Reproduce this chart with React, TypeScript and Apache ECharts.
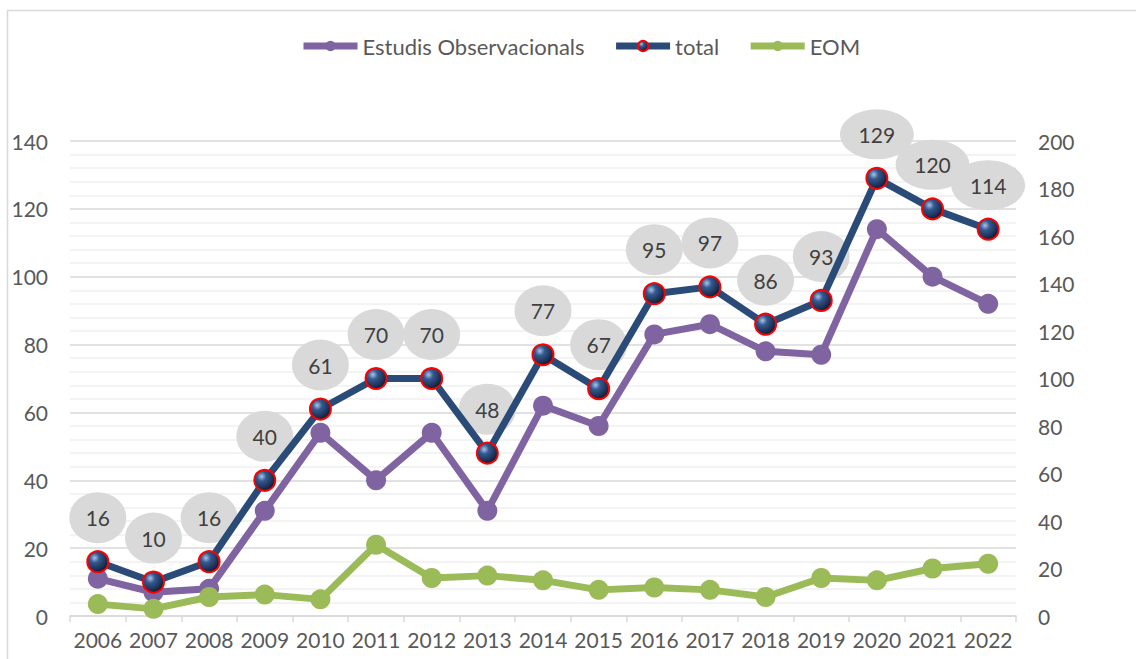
import React, { useEffect, useRef } from "react";
import * as echarts from "echarts";

const years = ["2006","2007","2008","2009","2010","2011","2012","2013","2014","2015","2016","2017","2018","2019","2020","2021","2022"];
const totalValues = [16, 10, 16, 40, 61, 70, 70, 48, 77, 67, 95, 97, 86, 93, 129, 120, 114];
const eoValues = [11, 7, 8, 31, 54, 40, 54, 31, 62, 56, 83, 86, 78, 77, 114, 100, 92];
const eomValues = [5, 3, 8, 9, 7, 30, 16, 17, 15, 11, 12, 11, 8, 16, 15, 20, 22];
const leftTicks = { min: 0, max: 140, interval: 20 };
const rightTicks = { min: 0, max: 200, interval: 20 };

const FONT = "Lato, 'Open Sans', sans-serif";
const TEXT = "#595959";
const ELLIPSE = "path://M0,50 A50,50 0 1,1 100,50 A50,50 0 1,1 0,50 Z";

export default function App() {
  const ref = useRef<HTMLDivElement>(null);
  useEffect(() => {
    if (!ref.current) return;
    const chart = echarts.init(ref.current, null, { renderer: "svg" });
    const sphere = {
      type: "radial",
      x: 0.35,
      y: 0.32,
      r: 0.75,
      colorStops: [
        { offset: 0, color: "#a8c4ea" },
        { offset: 0.3, color: "#35598f" },
        { offset: 0.75, color: "#1a2f52" },
        { offset: 1, color: "#0a1322" },
      ],
    };
    chart.setOption({
      animation: false,
      backgroundColor: "#ffffff",
      graphic: [
        {
          type: "rect",
          shape: { x: 7.5, y: 10.5, width: 1140, height: 660 },
          style: { fill: "none", stroke: "#d9d9d9", lineWidth: 1.5 },
          silent: true,
        },
      ],
      legend: {
        top: 30,
        left: 295,
        data: ["Estudis Observacionals", "total", "EOM"],
        itemWidth: 54,
        itemHeight: 13,
        itemGap: 28,
        lineStyle: { width: 7 },
        textStyle: { fontFamily: FONT, fontSize: 22, color: TEXT },
      },
      grid: { left: 70, right: 120, top: 141, bottom: 43 },
      xAxis: {
        type: "category",
        data: years,
        boundaryGap: true,
        axisLine: { lineStyle: { color: "#d9d9d9", width: 1.5 } },
        axisTick: { show: true, length: 6, lineStyle: { color: "#d9d9d9", width: 1.5 } },
        axisLabel: { fontFamily: FONT, fontSize: 21, color: TEXT, margin: 13, interval: 0 },
      },
      yAxis: [
        {
          type: "value",
          min: leftTicks.min,
          max: leftTicks.max,
          interval: leftTicks.interval,
          axisLine: { show: false },
          axisTick: { show: false },
          axisLabel: { fontFamily: FONT, fontSize: 21, color: TEXT, margin: 22 },
          splitLine: { lineStyle: { color: "#d9d9d9", width: 1.5 } },
          minorTick: { show: false, splitNumber: 5 },
          minorSplitLine: { show: true, lineStyle: { color: "#efefef", width: 1.5 } },
        },
        {
          type: "value",
          min: rightTicks.min,
          max: rightTicks.max,
          interval: rightTicks.interval,
          position: "right",
          axisLine: { show: false },
          axisTick: { show: false },
          axisLabel: { fontFamily: FONT, fontSize: 21, color: TEXT, margin: 22 },
          splitLine: { show: false },
        },
      ],
      series: [
        {
          name: "totalLabels",
          type: "line",
          yAxisIndex: 0,
          data: totalValues,
          z: 1,
          silent: true,
          symbol: ELLIPSE,
          symbolKeepAspect: false,
          symbolSize: (v: number) => (v >= 100 ? [74, 50] : [57, 51]),
          symbolOffset: [0, -44],
          itemStyle: { color: "#d9d9d9" },
          lineStyle: { width: 0, color: "transparent" },
          label: {
            show: true,
            position: "inside",
            fontFamily: FONT,
            fontSize: 21,
            color: "#404040",
          },
        },
        {
          name: "Estudis Observacionals",
          type: "line",
          yAxisIndex: 0,
          data: eoValues,
          z: 2,
          symbol: "circle",
          symbolSize: 20,
          lineStyle: { color: "#8064a2", width: 7 },
          itemStyle: { color: "#8064a2" },
        },
        {
          name: "EOM",
          type: "line",
          yAxisIndex: 1,
          data: eomValues,
          z: 2,
          symbol: "circle",
          symbolSize: 20,
          lineStyle: { color: "#9bbb59", width: 7 },
          itemStyle: { color: "#9bbb59" },
        },
        {
          name: "total",
          type: "line",
          yAxisIndex: 0,
          data: totalValues,
          z: 3,
          symbol: "circle",
          symbolSize: 21,
          lineStyle: { color: "#2a4b77", width: 7 },
          itemStyle: { color: sphere, borderColor: "#ff0000", borderWidth: 2 },
        },
      ],
    });
    return () => chart.dispose();
  }, []);
  return (
    <div
      ref={ref}
      style={{ position: "fixed", left: 0, top: 0, width: 1136, height: 659 }}
    />
  );
}
